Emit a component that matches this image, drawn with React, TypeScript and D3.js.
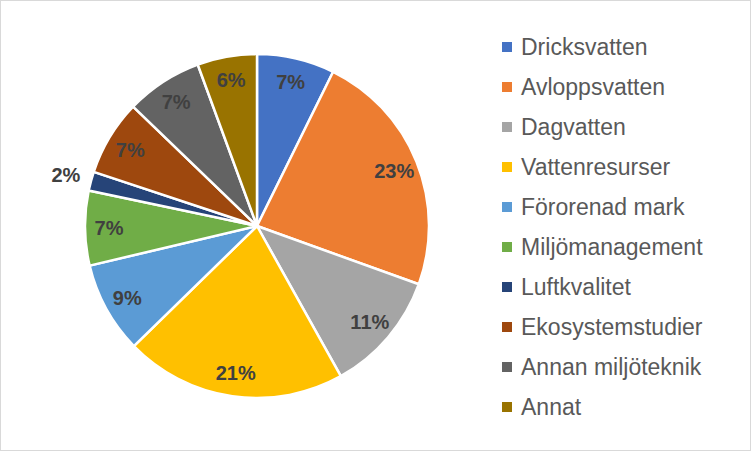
import { useRef, useEffect } from 'react';
import * as d3 from 'd3';

// share of assignments per area
const categories = [
  'Dricksvatten',
  'Avloppsvatten',
  'Dagvatten',
  'Vattenresurser',
  'Förorenad mark',
  'Miljömanagement',
  'Luftkvalitet',
  'Ekosystemstudier',
  'Annan miljöteknik',
  'Annat',
];
const values = [7.3, 23.2, 11.4, 20.8, 8.6, 7.0, 1.8, 7.1, 7.2, 5.6];
const colors = [
  '#4472C4', '#ED7D31', '#A5A5A5', '#FFC000', '#5B9BD5',
  '#70AD47', '#264478', '#9E480E', '#636363', '#997300',
];

const W = 752;
const H = 452;

const App = () => {
  const svgRef = useRef<SVGSVGElement>(null);

  useEffect(() => {
    const svg = d3.select(svgRef.current);
    svg.selectAll('*').remove();

    const cx = 257;
    const cy = 226;
    const r = 172;
    const total = d3.sum(values);
    const fmt = d3.format('.0%');

    // frame
    svg.append('rect')
      .attr('x', 0.5).attr('y', 0.5)
      .attr('width', W - 2).attr('height', H - 2)
      .attr('fill', '#fff')
      .attr('stroke', '#D9D9D9');

    const pie = d3.pie<number>().value(d => d).sort(null);
    const arcs = pie(values);
    const arc = d3.arc<d3.PieArcDatum<number>>().innerRadius(0).outerRadius(r);
    const labelArc = d3.arc<d3.PieArcDatum<number>>().innerRadius(148).outerRadius(148);
    const outerArc = d3.arc<d3.PieArcDatum<number>>().innerRadius(198).outerRadius(198);

    const g = svg.append('g').attr('transform', `translate(${cx},${cy})`);

    g.selectAll('path')
      .data(arcs)
      .enter()
      .append('path')
      .attr('d', arc)
      .attr('fill', (d, i) => colors[i])
      .attr('stroke', '#fff')
      .attr('stroke-width', 2.5)
      .attr('stroke-linejoin', 'round');

    // data labels, small slices go outside
    g.selectAll('text.lbl')
      .data(arcs)
      .enter()
      .append('text')
      .attr('class', 'lbl')
      .attr('transform', d => {
        const small = d.data / total < 0.03;
        const [x, y] = (small ? outerArc : labelArc).centroid(d);
        return `translate(${x},${y})`;
      })
      .attr('text-anchor', 'middle')
      .attr('dy', '0.36em')
      .attr('font-family', 'Liberation Sans, Arial, sans-serif')
      .attr('font-weight', 'bold')
      .attr('font-size', 20)
      .attr('fill', '#404040')
      .text(d => fmt(d.data / total));

    // legend
    const ly = d3.scalePoint<string>()
      .domain(categories)
      .range([47, 407]);

    const leg = svg.append('g')
      .selectAll('g')
      .data(categories)
      .enter()
      .append('g')
      .attr('transform', d => `translate(502,${ly(d)})`);

    leg.append('rect')
      .attr('x', 0).attr('y', -5)
      .attr('width', 10).attr('height', 10)
      .attr('fill', (d, i) => colors[i]);

    leg.append('text')
      .attr('x', 19)
      .attr('dy', '0.36em')
      .attr('font-family', 'Liberation Sans, Arial, sans-serif')
      .attr('font-size', 23)
      .attr('fill', '#595959')
      .text(d => d);
  }, []);

  return (
    <div style={{ position: 'fixed', left: 0, top: 0 }}>
      <svg ref={svgRef} width={W} height={H} style={{ display: 'block' }} />
    </div>
  );
};

export default App;
